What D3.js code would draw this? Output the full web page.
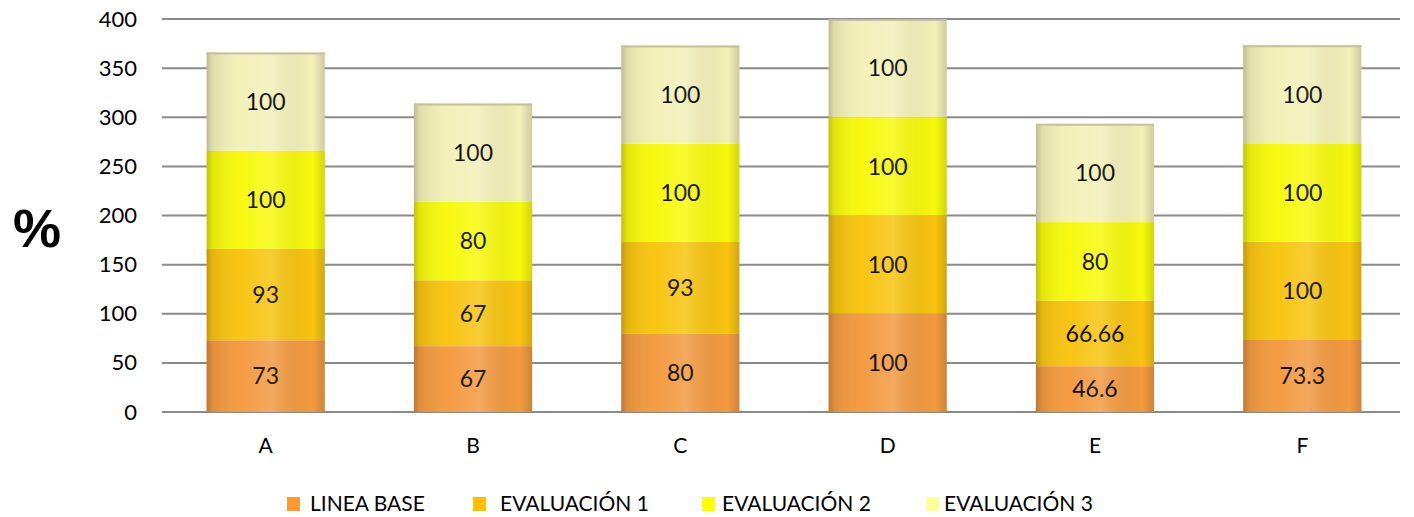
<!DOCTYPE html>
<html>
<head>
<meta charset="utf-8">
<script src="https://cdn.jsdelivr.net/npm/d3@7"></script>
<style>
  body { margin: 0; background: #fff; }
  svg { font-family: "Lato", "Noto Sans", sans-serif; }
</style>
</head>
<body>
<div class="graph"></div>
<script>
// data
var categories = ["A", "B", "C", "D", "E", "F"];
var seriesNames = ["LINEA BASE", "EVALUACIÓN 1", "EVALUACIÓN 2", "EVALUACIÓN 3"];
var lineaBase = [73, 67, 80, 100, 46.6, 73.3];
var evaluacion1 = [93, 67, 93, 100, 66.66, 100];
var evaluacion2 = [100, 80, 100, 100, 80, 100];
var evaluacion3 = [100, 100, 100, 100, 100, 100];
var yTicks = [0, 50, 100, 150, 200, 250, 300, 350, 400];

var seriesColors = ["#f39a40", "#f8c410", "#f7f90c", "#f3f0b8"];
var legendColors = ["#ff9933", "#ffc000", "#ffff00", "#ffff99"];

function createGraph() {
    var svgWidth = 1414, svgHeight = 517;
    var margin = {top: 19, left: 162};
    var width = 1406 - margin.left;
    var height = 412 - margin.top;

    var svg = d3.select("div.graph").append("svg")
        .attr("width", svgWidth)
        .attr("height", svgHeight);

    var defs = svg.append("defs");
    var shade = defs.append("linearGradient")
        .attr("id", "shade")
        .attr("x1", "0%").attr("x2", "100%")
        .attr("y1", "0%").attr("y2", "0%");
    [[0, "#000", 0.22], [0.05, "#000", 0.08], [0.3, "#fff", 0.02],
     [0.55, "#fff", 0.15], [0.9, "#000", 0.0], [1, "#000", 0.15]]
        .forEach(function (s) {
            shade.append("stop")
                .attr("offset", s[0])
                .attr("stop-color", s[1])
                .attr("stop-opacity", s[2]);
        });

    var g = svg.append("g")
        .attr("transform", "translate(" + margin.left + "," + margin.top + ")");

    var x = d3.scaleBand().domain(categories).range([0, width]).paddingInner(0.43).paddingOuter(0.215);
    var y = d3.scaleLinear().domain([0, 400]).range([height, 0]);

    // grid lines
    g.append("g")
        .selectAll("line")
        .data(yTicks)
        .enter().append("line")
        .attr("x1", 0)
        .attr("x2", width - 6)
        .attr("y1", function (d) { return y(d); })
        .attr("y2", function (d) { return y(d); })
        .attr("stroke", "#8a8a8a")
        .attr("stroke-width", 2);

    // y axis labels
    var yAxis = g.append("g")
        .attr("transform", "translate(-25,0)")
        .call(d3.axisLeft(y).tickValues(yTicks).tickSize(0).tickPadding(0));
    yAxis.select(".domain").remove();
    yAxis.selectAll("text")
        .attr("font-size", 22)
        .attr("font-family", "Lato, 'Noto Sans', sans-serif")
        .attr("fill", "#000");

    // x axis labels
    var xAxis = g.append("g")
        .attr("transform", "translate(0," + height + ")")
        .call(d3.axisBottom(x).tickSize(0).tickPadding(26));
    xAxis.select(".domain").remove();
    xAxis.selectAll("text")
        .attr("font-size", 21)
        .attr("font-family", "Lato, 'Noto Sans', sans-serif")
        .attr("fill", "#000");

    var stackData = categories.map(function (c, i) {
        return {cat: c, s0: lineaBase[i], s1: evaluacion1[i], s2: evaluacion2[i], s3: evaluacion3[i]};
    });
    var stack = d3.stack().keys(["s0", "s1", "s2", "s3"]);
    var layers = stack(stackData);

    var layerG = g.selectAll("g.layer")
        .data(layers)
        .enter().append("g")
        .attr("class", "layer");

    layerG.selectAll("rect.seg")
        .data(function (d) { return d.map(function (p) { return {p: p, key: d.key, idx: d.index}; }); })
        .enter().append("rect")
        .attr("class", "seg")
        .attr("x", function (d) { return x(d.p.data.cat); })
        .attr("width", x.bandwidth())
        .attr("y", function (d) { return y(d.p[1]); })
        .attr("height", function (d) { return y(d.p[0]) - y(d.p[1]); })
        .attr("fill", function (d) { return seriesColors[d.idx]; });

    // cylinder shading
    g.selectAll("rect.shade")
        .data(stackData)
        .enter().append("rect")
        .attr("class", "shade")
        .attr("x", function (d) { return x(d.cat); })
        .attr("width", x.bandwidth())
        .attr("y", function (d) { return y(d.s0 + d.s1 + d.s2 + d.s3); })
        .attr("height", function (d) { return y(0) - y(d.s0 + d.s1 + d.s2 + d.s3); })
        .attr("fill", "url(#shade)");

    // top rim
    g.selectAll("line.rim")
        .data(stackData)
        .enter().append("line")
        .attr("class", "rim")
        .attr("x1", function (d) { return x(d.cat); })
        .attr("x2", function (d) { return x(d.cat) + x.bandwidth(); })
        .attr("y1", function (d) { return y(d.s0 + d.s1 + d.s2 + d.s3) + 1; })
        .attr("y2", function (d) { return y(d.s0 + d.s1 + d.s2 + d.s3) + 1; })
        .attr("stroke", "#c4c09a")
        .attr("stroke-width", 2);

    // data labels
    layerG.selectAll("text.val")
        .data(function (d) { return d.map(function (p) { return {p: p, key: d.key}; }); })
        .enter().append("text")
        .attr("class", "val")
        .attr("x", function (d) { return x(d.p.data.cat) + x.bandwidth() / 2; })
        .attr("y", function (d) { return (y(d.p[0]) + y(d.p[1])) / 2; })
        .attr("dy", "0.36em")
        .attr("text-anchor", "middle")
        .attr("font-size", 23)
        .attr("fill", "#000")
        .text(function (d) { return d.p.data[d.key]; });

    // y title
    svg.append("text")
        .attr("x", 37)
        .attr("y", 247)
        .attr("text-anchor", "middle")
        .attr("font-size", 54)
        .attr("font-weight", "bold")
        .attr("font-family", "'Liberation Sans', Arial, sans-serif")
        .text("%");

    // legend
    var legendX = [287, 473, 702, 926];
    var textX = [310, 500, 722, 944];
    var legend = svg.append("g");
    seriesNames.forEach(function (name, i) {
        legend.append("rect")
            .attr("x", legendX[i])
            .attr("y", 497)
            .attr("width", 13)
            .attr("height", 14)
            .attr("fill", legendColors[i]);
        legend.append("text")
            .attr("x", textX[i])
            .attr("y", 511)
            .attr("font-size", 21)
            .attr("fill", "#000")
            .text(name);
    });
}

createGraph();
</script>
</body>
</html>
